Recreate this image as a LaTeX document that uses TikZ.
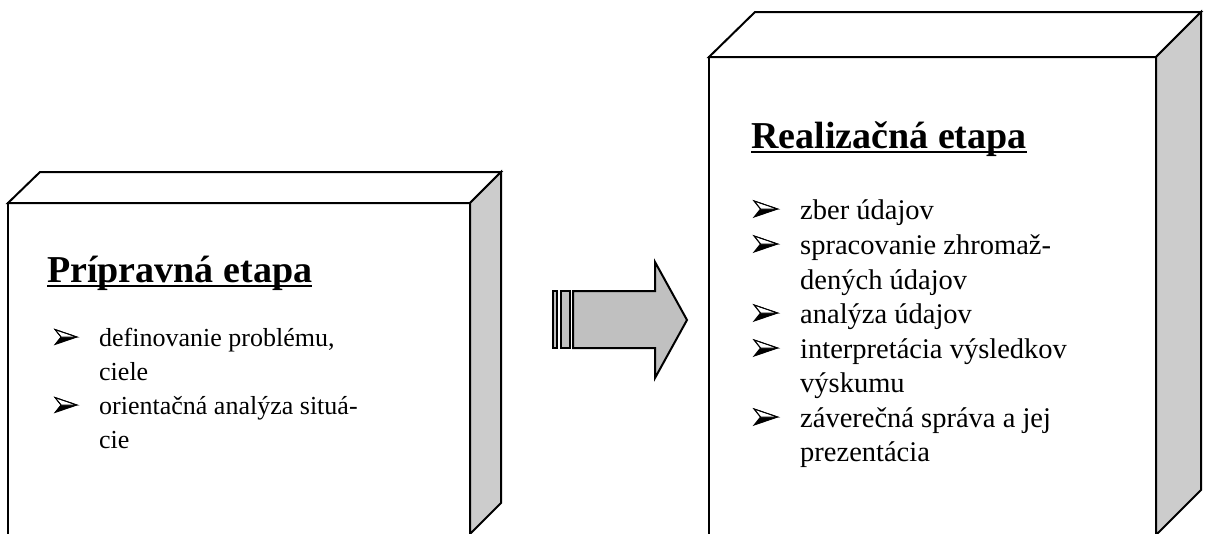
\documentclass[tikz,border=0pt]{standalone}
\usepackage{fontspec}
\setmainfont{Liberation Serif}
\definecolor{sidegray}{RGB}{204,204,204}
\definecolor{arrowgray}{RGB}{192,192,192}
\tikzset{
  edge/.style={draw=black, line width=2pt, line join=miter},
  sideface/.style={edge, fill=sidegray},
  arrowpart/.style={edge, fill=arrowgray},
  title/.style={anchor=base west, inner sep=0pt, font=\fontsize{38}{40}\selectfont\bfseries},
  item/.style={anchor=base west, inner sep=0pt, font=\fontsize{26}{30}\selectfont},
  itemr/.style={anchor=base west, inner sep=0pt, font=\fontsize{28.5}{32}\selectfont},
  uline/.style={line width=2.6pt},
  bul/.pic={
    \fill[black] (0,7.5) -- (22,0) -- (6,0) -- cycle;
    \draw[line width=0.9pt, fill=white, line join=miter] (0,-7.5) -- (22,0) -- (6,0) -- cycle;
    \draw[line width=0.9pt, line join=miter] (0,-7.5) -- (22,0) -- (0,7.5) -- (6,0) -- cycle;
  }
}
\begin{document}
\begin{tikzpicture}[x=1pt, y=-1pt]
\useasboundingbox (0,0) rectangle (1205,533);
\clip (0,0) rectangle (1205,533);
% ---------- left box ----------
\coordinate (LA) at (8,203);
\coordinate (LB) at (470,203);
\coordinate (LC) at (501,172);
\coordinate (LD) at (40,172);
\coordinate (LE) at (501,503);
\coordinate (LF) at (470,534);
\coordinate (LG) at (8,545);
\coordinate (LH) at (470,545);
\draw[edge, fill=white] (LA) -- (LD) -- (LC) -- (LB) -- cycle;
\draw[sideface] (LB) -- (LC) -- (LE) -- (LF) -- cycle;
\draw[edge] (LG) -- (LA) -- (LB) -- (LH);
% ---------- right box ----------
\coordinate (RA) at (709,57);
\coordinate (RB) at (1156,57);
\coordinate (RC) at (1201,12);
\coordinate (RD) at (755,12);
\coordinate (RE) at (1201,490);
\coordinate (RF) at (1156,535);
\coordinate (RG) at (709,545);
\coordinate (RH) at (1156,545);
\draw[edge, fill=white] (RA) -- (RD) -- (RC) -- (RB) -- cycle;
\draw[sideface] (RB) -- (RC) -- (RE) -- (RF) -- cycle;
\draw[edge] (RG) -- (RA) -- (RB) -- (RH);
% ---------- arrow ----------
\draw[arrowpart] (553,291) rectangle (557,348);
\draw[arrowpart] (561,291) rectangle (570,348);
\draw[arrowpart] (573,291) -- (655,291) -- (655,262) -- (687,320) -- (655,378) -- (655,348) -- (573,348) -- cycle;
% ---------- left texts ----------
\node[title] (t1) at (47,282) {Prípravná etapa};
\draw[uline] ([yshift=-4pt]t1.base west) -- ([yshift=-4pt]t1.base east);
\node[item] (l1a) at (99,346) {definovanie problému,};
\node[item] (l1b) at (99,380) {ciele};
\node[item] (l2a) at (99,414) {orientačná analýza situá-};
\node[item] (l2b) at (99,448) {cie};
\pic at (55,337) {bul};
\pic at (55,405) {bul};
% ---------- right texts ----------
\node[title] (t2) at (751,148) {Realizačná etapa};
\draw[uline] ([yshift=-4pt]t2.base west) -- ([yshift=-4pt]t2.base east);
\node[itemr] (r1) at (800,219) {zber údajov};
\node[itemr] (r2a) at (800,254) {spracovanie zhromaž-};
\node[itemr] (r2b) at (800,289) {dených údajov};
\node[itemr] (r3) at (800,323) {analýza údajov};
\node[itemr] (r4a) at (800,358) {interpretácia výsledkov};
\node[itemr] (r4b) at (800,392) {výskumu};
\node[itemr] (r5a) at (800,427) {záverečná správa a jej};
\node[itemr] (r5b) at (800,461) {prezentácia};
\pic[scale=1.08] at (754,209) {bul};
\pic[scale=1.08] at (754,244) {bul};
\pic[scale=1.08] at (754,313) {bul};
\pic[scale=1.08] at (754,348) {bul};
\pic[scale=1.08] at (754,417) {bul};
\end{tikzpicture}
\end{document}
